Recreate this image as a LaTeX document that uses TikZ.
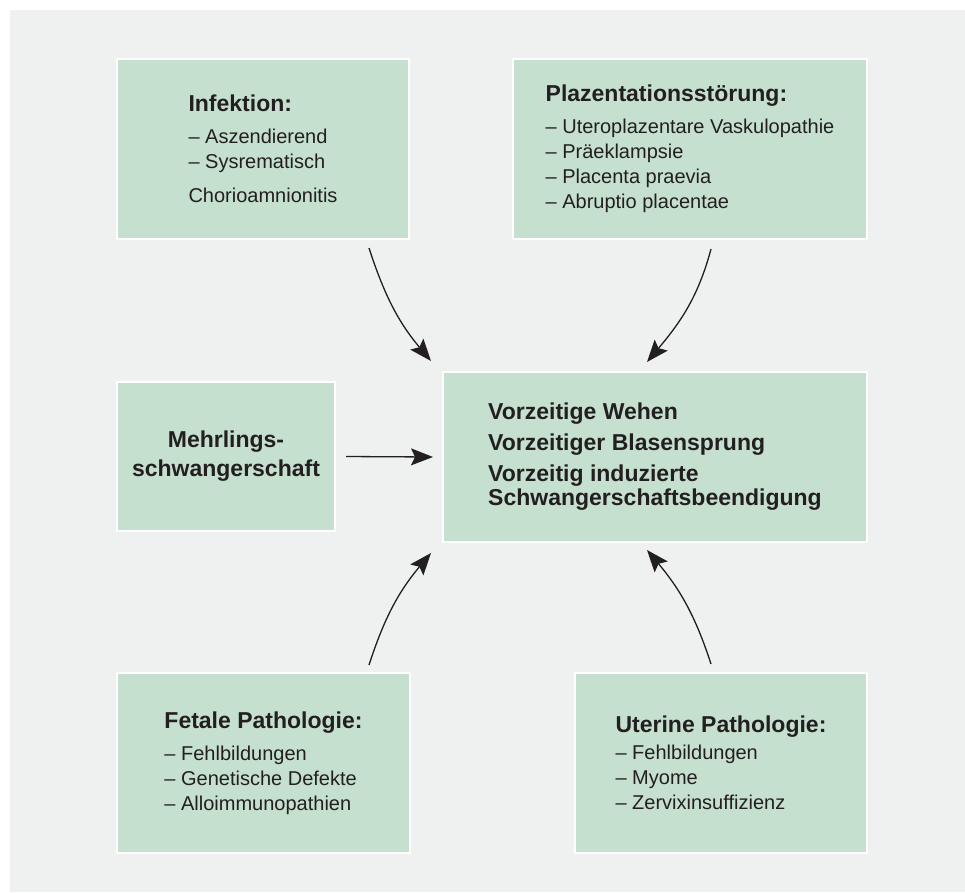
\documentclass[tikz,border=0pt]{standalone}
\usepackage{fontspec}
\setmainfont{Liberation Sans}
\usetikzlibrary{arrows.meta}
\definecolor{bggray}{RGB}{239,241,240}
\definecolor{boxgreen}{RGB}{197,224,206}
\definecolor{inktext}{RGB}{35,31,32}
\newcommand{\boxhead}[1]{{\fontsize{23}{25}\selectfont\bfseries #1}}
\begin{document}
\begin{tikzpicture}[x=1pt, y=-1pt, >={Stealth[length=22pt,width=17pt,inset=4pt]},
  every edge/.style={draw=inktext, line width=1.3pt, ->},
  cause node/.style={rectangle, fill=boxgreen, draw=white, line width=2pt, inner sep=0pt, align=left, text=inktext, font=\fontsize{20}{25}\selectfont},
  result node/.style={cause node, font=\fontsize{23}{24}\selectfont\bfseries}]
\useasboundingbox (0,0) rectangle (965,892);
\fill[white] (0,0) rectangle (965,892);
\fill[bggray] (10,10) rectangle (965,892);
\node [cause node, minimum width=292pt, minimum height=180pt] (infekt) at (263,149)
  {\boxhead{Infektion:}\\[7pt] – Aszendierend\\ – Sysrematisch\\[9pt] Chorioamnionitis};
\node [cause node, minimum width=354pt, minimum height=180pt] (plaz) at (690,149)
  {\boxhead{Plazentationsstörung:}\\[7pt] – Uteroplazentare Vaskulopathie\\ – Präeklampsie\\ – Placenta praevia\\ – Abruptio placentae};
\node [result node, align=center, font=\fontsize{23}{29}\selectfont\bfseries, minimum width=218pt, minimum height=149pt] (mehr) at (226,456.5)
  {Mehrlings-\\schwangerschaft};
\node [result node, minimum width=424pt, minimum height=170pt] (zentrum) at (655,457)
  {Vorzeitige Wehen\\[7pt] Vorzeitiger Blasensprung\\[7pt] Vorzeitig induzierte\\ Schwangerschaftsbeendigung};
\node [cause node, minimum width=293pt, minimum height=180pt] (fetal) at (263.5,763)
  {\boxhead{Fetale Pathologie:}\\[7pt] – Fehlbildungen\\ – Genetische Defekte\\ – Alloimmunopathien};
\node [cause node, minimum width=292pt, minimum height=180pt] (uter) at (721,763)
  {\boxhead{Uterine Pathologie:}\\[2pt] – Fehlbildungen\\ – Myome\\ – Zervixinsuffizienz};
\path
  ([xshift=-41pt,yshift=-8pt]infekt.south east) edge[out=-72, in=130] ([xshift=-11pt,yshift=10pt]zentrum.north west)
  ([xshift=21pt,yshift=-9pt]plaz.south) edge[out=-105, in=50] ([xshift=-8pt,yshift=9pt]zentrum.north)
  ([xshift=10pt]mehr.east) edge ([xshift=-9pt]zentrum.west)
  ([xshift=-42pt,yshift=7pt]fetal.north east) edge[out=72, in=-130] ([xshift=-11pt,yshift=-10pt]zentrum.south west)
  ([xshift=-10pt,yshift=8pt]uter.north) edge[out=108, in=-50] ([xshift=-8pt,yshift=-7pt]zentrum.south)
         ;
\end{tikzpicture}
\end{document}
